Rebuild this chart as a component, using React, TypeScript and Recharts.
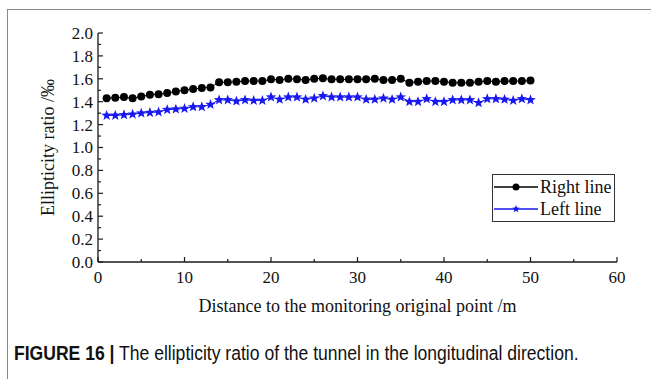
import React from "react";
import { LineChart, Line, XAxis, YAxis, Legend, Label } from "recharts";

// distance from the monitoring origin (m)
const distance = [
  1, 2, 3, 4, 5, 6, 7, 8, 9, 10, 11, 12, 13, 14, 15, 16, 17, 18, 19, 20, 21, 22, 23, 24, 25,
  26, 27, 28, 29, 30, 31, 32, 33, 34, 35, 36, 37, 38, 39, 40, 41, 42, 43, 44, 45, 46, 47, 48, 49, 50,
];

// ellipticity ratio (‰)
const rightLine = [
  1.43, 1.435, 1.44, 1.43, 1.445, 1.46, 1.465, 1.475, 1.49, 1.5, 1.51, 1.52, 1.525, 1.57, 1.57, 1.575,
  1.58, 1.58, 1.58, 1.595, 1.59, 1.6, 1.595, 1.59, 1.6, 1.605, 1.595, 1.595, 1.595, 1.595, 1.595, 1.6, 1.59,
  1.59, 1.6, 1.565, 1.575, 1.58, 1.58, 1.575, 1.565, 1.565, 1.565, 1.575, 1.58, 1.575, 1.58, 1.58, 1.58, 1.585,
];
const leftLine = [
  1.28, 1.28, 1.285, 1.29, 1.3, 1.305, 1.31, 1.33, 1.335, 1.34, 1.355, 1.355, 1.375, 1.415, 1.415, 1.405,
  1.415, 1.41, 1.41, 1.44, 1.42, 1.44, 1.44, 1.42, 1.43, 1.45, 1.44, 1.44, 1.44, 1.44, 1.42, 1.42, 1.43,
  1.42, 1.44, 1.4, 1.4, 1.425, 1.4, 1.4, 1.415, 1.415, 1.415, 1.39, 1.425, 1.425, 1.42, 1.41, 1.425, 1.415,
];

const xTicks = [0, 5, 10, 15, 20, 25, 30, 35, 40, 45, 50, 55, 60];
const yTicks = [
  0, 0.1, 0.2, 0.3, 0.4, 0.5, 0.6, 0.7, 0.8, 0.9, 1.0, 1.1, 1.2, 1.3, 1.4, 1.5, 1.6, 1.7, 1.8, 1.9, 2.0,
];

const data = distance.map((d, i) => ({ distance: d, right: rightLine[i], left: leftLine[i] }));

const BLUE = "#1818f0";
const INK = "#1a1a1a";

const starPoints = (cx: number, cy: number, ro: number, ri: number) => {
  const pts: string[] = [];
  for (let i = 0; i < 10; i++) {
    const r = i % 2 === 0 ? ro : ri;
    const a = -Math.PI / 2 + (i * Math.PI) / 5;
    pts.push(`${cx + r * Math.cos(a)},${cy + r * Math.sin(a)}`);
  }
  return pts.join(" ");
};

const StarDot = (props: any) => {
  const { cx, cy, index } = props;
  if (cx == null || cy == null) return <g key={index} />;
  return <polygon key={index} points={starPoints(cx, cy, 5.5, 2.3)} fill={BLUE} />;
};

const XTick = (props: any) => {
  const { x, y, payload } = props;
  const v = payload.value;
  const major = v % 10 === 0;
  return (
    <g>
      <line x1={x} x2={x} y1={y} y2={y - (major ? 5 : 3)} stroke={INK} strokeWidth={1.2} />
      {major && (
        <text x={x} y={y + 21} textAnchor="middle" fontSize={17} fill="#111">
          {v}
        </text>
      )}
    </g>
  );
};

const YTick = (props: any) => {
  const { x, y, payload } = props;
  const v = payload.value;
  const major = Math.round(v * 10) % 2 === 0;
  return (
    <g>
      <line x1={x} x2={x + (major ? 5 : 3)} y1={y} y2={y} stroke={INK} strokeWidth={1.2} />
      {major && (
        <text x={x - 5} y={y} dy="0.35em" textAnchor="end" fontSize={17} fill="#111">
          {v.toFixed(1)}
        </text>
      )}
    </g>
  );
};

const LegendBox = () => (
  <div
    style={{
      border: "1px solid #333",
      background: "#fff",
      width: 121,
      padding: "1px 0",
      fontSize: 18,
      color: "#111",
      lineHeight: "22px",
    }}
  >
    <div style={{ display: "flex", alignItems: "center" }}>
      <svg width={46} height={22}>
        <line x1={1} x2={45} y1={11} y2={11} stroke="#000" strokeWidth={1.5} />
        <circle cx={23} cy={11} r={3.5} fill="#000" />
      </svg>
      <span style={{ marginLeft: 1 }}>Right line</span>
    </div>
    <div style={{ display: "flex", alignItems: "center" }}>
      <svg width={46} height={22}>
        <line x1={1} x2={45} y1={11} y2={11} stroke={BLUE} strokeWidth={1.5} />
        <polygon points={starPoints(23, 11, 4, 1.7)} fill={BLUE} />
      </svg>
      <span style={{ marginLeft: 1 }}>Left line</span>
    </div>
  </div>
);

export default function App() {
  return (
    <div
      style={{
        position: "absolute",
        left: 0,
        top: 0,
        width: 651,
        height: 379,
        background: "#fff",
        overflow: "hidden",
        fontFamily: "'Liberation Serif', 'Times New Roman', serif",
      }}
    >
      <div
        style={{
          position: "absolute",
          left: 7,
          top: 9,
          width: 660,
          height: 380,
          borderTop: "1px solid #8a8a8a",
          borderLeft: "1px solid #8a8a8a",
        }}
      />
      <div style={{ position: "absolute", left: 0, top: 0 }}>
        <LineChart
          width={651}
          height={330}
          data={data}
          margin={{ top: 33, right: 34, bottom: 0, left: 38 }}
        >
          <XAxis
            dataKey="distance"
            type="number"
            domain={[0, 60]}
            ticks={xTicks}
            interval={0}
            tickSize={0}
            tickMargin={0}
            tick={<XTick />}
            height={68}
            axisLine={{ stroke: INK, strokeWidth: 1.3 }}
          >
            <Label
              value="Distance to the monitoring original point /m"
              position="insideBottom"
              offset={18}
              fontSize={18}
              fill="#111"
            />
          </XAxis>
          <YAxis
            type="number"
            domain={[0, 2]}
            ticks={yTicks}
            interval={0}
            tickSize={0}
            tickMargin={0}
            tick={<YTick />}
            width={60}
            axisLine={{ stroke: INK, strokeWidth: 1.3 }}
          >
            <Label
              value="Ellipticity ratio /‰"
              angle={-90}
              position="insideLeft"
              offset={10}
              fontSize={18}
              fill="#111"
              style={{ textAnchor: "middle" }}
            />
          </YAxis>
          <Legend
            layout="vertical"
            align="center"
            verticalAlign="middle"
            content={<LegendBox />}
            wrapperStyle={{ left: 492, top: 174, width: 124, height: 50 }}
          />
          <Line
            dataKey="right"
            name="Right line"
            stroke="#000"
            strokeWidth={1}
            dot={{ r: 4, fill: "#000", stroke: "none" }}
            isAnimationActive={false}
          />
          <Line
            dataKey="left"
            name="Left line"
            stroke={BLUE}
            strokeWidth={1}
            dot={<StarDot />}
            isAnimationActive={false}
          />
        </LineChart>
      </div>
      <div
        style={{
          position: "absolute",
          left: 14,
          top: 342,
          fontFamily: "'Liberation Sans', Arial, sans-serif",
          fontSize: 19.5,
          transform: "scaleX(0.9)",
          transformOrigin: "left top",
          color: "#111",
          whiteSpace: "nowrap",
        }}
      >
        <b>FIGURE 16 |</b> The ellipticity ratio of the tunnel in the longitudinal direction.
      </div>
    </div>
  );
}
